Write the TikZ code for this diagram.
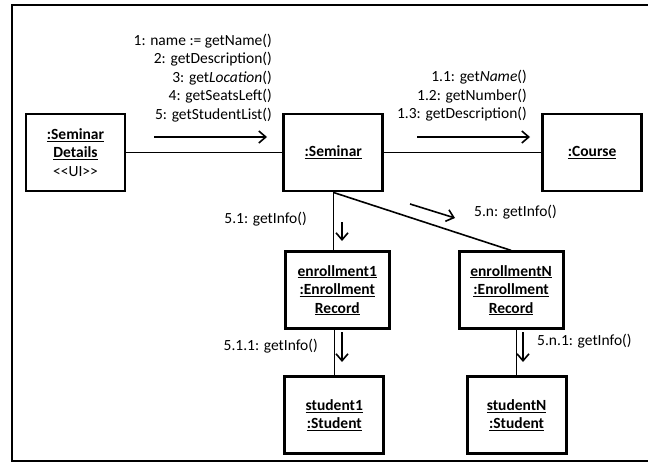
\documentclass[tikz,border=0pt]{standalone}
\usepackage{fontspec}
\setmainfont{Carlito}
\usepackage{tikz}
\usetikzlibrary{positioning, arrows.meta}
\newcommand{\umlfont}{\fontsize{15.5}{18.5}\selectfont}

\begin{document}
\begin{tikzpicture}[x=1pt, y=-1pt, font=\umlfont]
    % Styles
    \tikzstyle{object} = [rectangle, draw, line width=2.8pt, minimum width=99pt, minimum height=77pt, align=center, inner sep=0pt, font=\umlfont\bfseries]
    \tikzstyle{link} = [draw, line width=1.6pt]
    \tikzstyle{msg} = [draw, line width=1.6pt, -{Straight Barb[length=7pt, width=12pt]}]
    \tikzstyle{note} = [inner sep=0pt, align=right]

    \useasboundingbox (0,0) rectangle (648,463);
    \draw [line width=2.8pt] (648,5) -- (12,5) -- (12,461) -- (648,461);

    % Objects
    \node [object] (details) at (75.5,152.5) {\underline{:Seminar}\\\underline{Details}\\{\mdseries <\kern0pt<UI>\kern0pt>}};
    \node [object, right=156pt of details] (seminar) {\underline{:Seminar}};
    \node [object, right=157pt of seminar] (course) {\underline{:Course}};
    \node [object, minimum width=104pt, below=58pt of seminar, xshift=4pt] (enrollment1) {\underline{enrollment1}\\\underline{:Enrollment}\\\underline{Record}};
    \node [object, minimum width=104pt, right=67pt of enrollment1] (enrollmentN) {\underline{enrollmentN}\\\underline{:Enrollment}\\\underline{Record}};
    \node [object, below=45pt of enrollment1, xshift=-3pt] (student1) {\underline{student1}\\\underline{:Student}};
    \node [object, below=45pt of enrollmentN, xshift=5.5pt] (studentN) {\underline{studentN}\\\underline{:Student}};

    % Links
    \path [link] (details) -- (seminar);
    \path [link] (seminar) -- (course);
    \path [link] (seminar.south) -- (seminar.south |- enrollment1.north);
    \path [link] (seminar.south) -- (enrollmentN.north);
    \path [link] (enrollment1.south -| student1.north) -- (student1.north);
    \path [link] (enrollmentN.south -| studentN.north) -- (studentN.north);

    % Messages
    \coordinate (m1a) at (154,137);  \coordinate (m1b) at (267,137);
    \coordinate (m11a) at (417,137); \coordinate (m11b) at (530,137);
    \coordinate (m51a) at (342,222); \coordinate (m51b) at (342,241);
    \coordinate (m5na) at (410,204); \coordinate (m5nb) at (455,218);
    \coordinate (m511a) at (342,332); \coordinate (m511b) at (342,362);
    \coordinate (m5n1a) at (523,332); \coordinate (m5n1b) at (523,362);
    \path [msg] (m1a) -- (m1b);
    \path [msg] (m11a) -- (m11b);
    \path [msg] (m51a) -- (m51b);
    \path [msg] (m5na) -- (m5nb);
    \path [msg] (m511a) -- (m511b);
    \path [msg] (m5n1a) -- (m5n1b);

    % Labels
    \node [note, anchor=east] (calls1) at (272,78) {1: name := getName()\\2: getDescription()\\3: get\textit{Location}()\\4: getSeatsLeft()\\5: getStudentList()};
    \node [note, anchor=east] (calls11) at (527,96) {1.1: get\textit{Name}()\\1.2: getNumber()\\1.3: getDescription()};
    \node [note, anchor=east] (call51) at (307,219) {5.1: getInfo()};
    \node [note, anchor=west] (call5n) at (474,212) {5.n: getInfo()};
    \node [note, anchor=east] (call511) at (318,346) {5.1.1: getInfo()};
    \node [note, anchor=west] (call5n1) at (537,341) {5.n.1: getInfo()};
\end{tikzpicture}
\end{document}
